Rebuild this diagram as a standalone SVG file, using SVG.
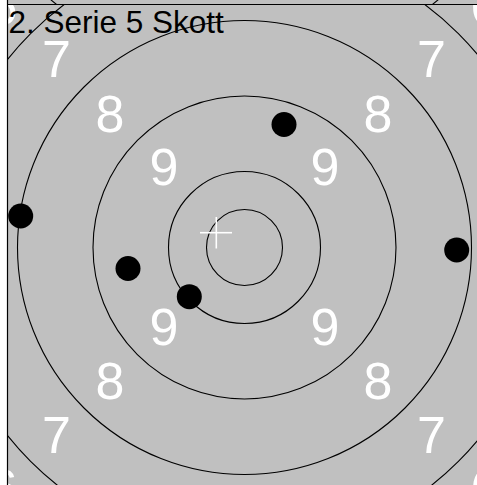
<svg xmlns="http://www.w3.org/2000/svg" width="477" height="485" viewBox="0 0 477 485">
  <style>
    .ring { fill: none; stroke: #000; stroke-width: 1.1; }
    .lbl { fill: #fff; font-family: "Liberation Sans", Arial, sans-serif; font-size: 52px; text-anchor: middle; }
    .shot { fill: #000; }
    .cross { stroke: #fff; stroke-width: 1.6; }
    .title { fill: #000; font-family: "Liberation Sans", Arial, sans-serif; font-size: 31.5px; }
  </style>
  <defs>
    <clipPath id="main"><rect x="8" y="5" width="469" height="480"/></clipPath>
    <clipPath id="strip"><rect x="8" y="0" width="469" height="4.5"/></clipPath>
  </defs>
  <rect x="0" y="0" width="477" height="485" fill="#fff"/>
  <g id="previous-target" clip-path="url(#strip)">
    <rect x="8" y="0" width="469" height="5" fill="#c0c0c0"/>
    <circle class="ring" cx="244.5" cy="-232" r="302"/>
  </g>
  <g id="target" clip-path="url(#main)">
    <rect x="8" y="0" width="469" height="485" fill="#c0c0c0"/>
    <g id="rings">
      <circle class="ring" cx="244.5" cy="247.5" r="38"/>
      <circle class="ring" cx="244.5" cy="247.5" r="76"/>
      <circle class="ring" cx="244.5" cy="247.5" r="151.5"/>
      <circle class="ring" cx="244.5" cy="247.5" r="227"/>
      <circle class="ring" cx="244.5" cy="247.5" r="302.5"/>
    </g>
    <g id="labels">
      <text class="lbl" x="164" y="185">9</text>
      <text class="lbl" x="325" y="185">9</text>
      <text class="lbl" x="164" y="345">9</text>
      <text class="lbl" x="325" y="345">9</text>
      <text class="lbl" x="110" y="132">8</text>
      <text class="lbl" x="378" y="132">8</text>
      <text class="lbl" x="110" y="399">8</text>
      <text class="lbl" x="378" y="399">8</text>
      <text class="lbl" x="56.5" y="77">7</text>
      <text class="lbl" x="431.5" y="77">7</text>
      <text class="lbl" x="56.5" y="453">7</text>
      <text class="lbl" x="431.5" y="453">7</text>
      <text class="lbl" x="3" y="24">6</text>
      <text class="lbl" x="485" y="24">6</text>
      <text class="lbl" x="3" y="506">6</text>
      <text class="lbl" x="485" y="506">6</text>
    </g>
    <g id="shots">
      <circle class="shot" cx="284" cy="124.5" r="12.5"/>
      <circle class="shot" cx="20.7" cy="216" r="12.5"/>
      <circle class="shot" cx="456.7" cy="250" r="12.5"/>
      <circle class="shot" cx="128" cy="268.5" r="12.5"/>
      <circle class="shot" cx="189.3" cy="296.7" r="12.5"/>
    </g>
    <g id="mean-point">
      <line class="cross" x1="200" y1="232.7" x2="232" y2="232.7"/>
      <line class="cross" x1="216.3" y1="217" x2="216.3" y2="248.5"/>
    </g>
  </g>
  <g id="frame">
    <line x1="7.5" y1="0" x2="7.5" y2="485" stroke="#000" stroke-width="1.2"/>
    <line x1="7" y1="4.5" x2="477" y2="4.5" stroke="#000" stroke-width="1.2"/>
  </g>
  <text id="title" class="title" x="8.5" y="33">2. Serie 5 Skott</text>
</svg>
